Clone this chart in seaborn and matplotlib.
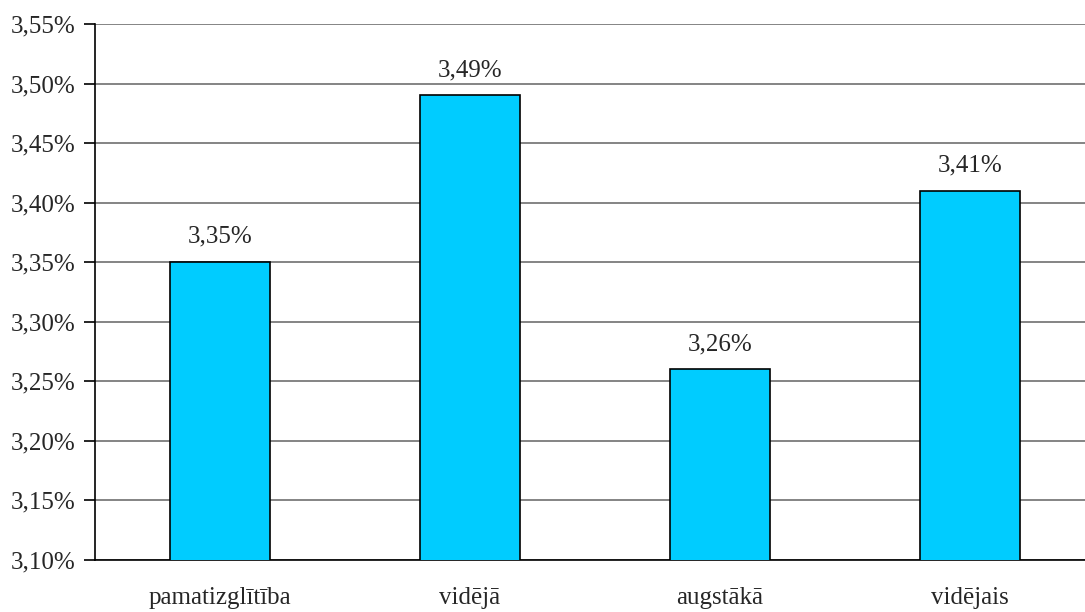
import matplotlib
matplotlib.use("Agg")
import matplotlib.pyplot as plt
import seaborn as sns
import pandas as pd
from matplotlib.ticker import FuncFormatter

categories = ["pamatizglītība", "vidējā", "augstākā", "vidējais"]
values = [3.35, 3.49, 3.26, 3.41]
y_ticks = [3.10, 3.15, 3.20, 3.25, 3.30, 3.35, 3.40, 3.45, 3.50, 3.55]

sns.set_style("white")
plt.rcParams["font.family"] = ["Liberation Serif", "DejaVu Serif"]

df = pd.DataFrame({"cat": categories, "val": values})

fig = plt.figure(figsize=(10.85, 6.12), dpi=100)
ax = fig.add_axes([95 / 1085, 52 / 612, 1000 / 1085, 536 / 612])

sns.barplot(data=df, x="cat", y="val", color="#00CCFF", saturation=1,
            width=0.4, edgecolor="black", linewidth=1.2, ax=ax, zorder=3)

ax.set_ylim(3.10, 3.55)
ax.set_xlim(-0.5, 3.5)
ax.set_yticks(y_ticks)
ax.yaxis.set_major_formatter(FuncFormatter(lambda v, p: f"{v:.2f}%".replace(".", ",")))
ax.grid(axis="y", color="#707070", linewidth=1.2, zorder=0)
ax.set_axisbelow(True)

for s in ["top", "right"]:
    ax.spines[s].set_visible(False)
for s in ["left", "bottom"]:
    ax.spines[s].set_color("black")
    ax.spines[s].set_linewidth(1.2)

ax.tick_params(axis="y", which="major", left=True, length=8, width=1.2,
               color="black", pad=6, labelsize=18)
ax.tick_params(axis="x", which="major", bottom=False, pad=16, labelsize=18)
ax.set_xlabel("")
ax.set_ylabel("")

for i, v in enumerate(values):
    ax.text(i, v + 0.012, f"{v:.2f}%".replace(".", ","), ha="center",
            va="bottom", fontsize=18)

fig.savefig("out.png", dpi=100)
